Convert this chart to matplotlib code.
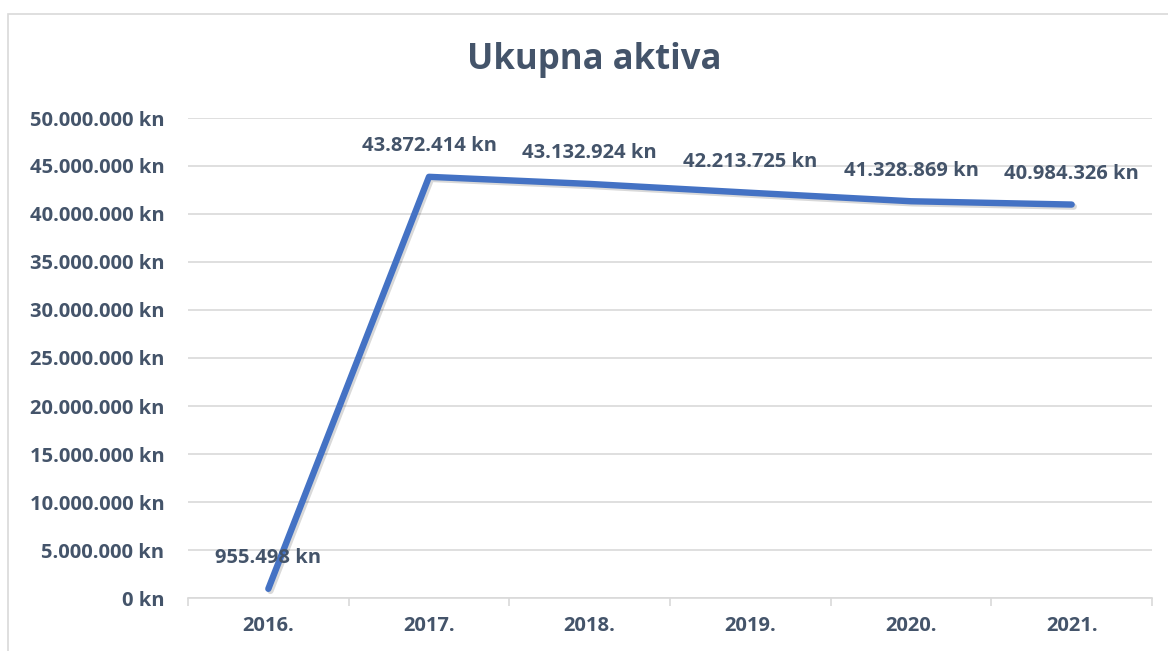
import matplotlib
matplotlib.use("Agg")
import matplotlib.pyplot as plt
import matplotlib.patheffects as pe
from matplotlib.patches import Rectangle
from matplotlib.ticker import FuncFormatter, FixedLocator

years = ["2016.", "2017.", "2018.", "2019.", "2020.", "2021."]
values = [955498, 43872414, 43132924, 42213725, 41328869, 40984326]
y_ticks = [0, 5000000, 10000000, 15000000, 20000000, 25000000, 30000000, 35000000, 40000000, 45000000, 50000000]
title = "Ukupna aktiva"

TXT = "#44546A"
GRID = "#D9D9D9"
LINE = "#4472C4"
plt.rcParams['font.family'] = ['Open Sans', 'DejaVu Sans']

def fmt(v):
    return f"{int(v):,}".replace(",", ".") + " kn"

W, H = 1168, 651
fig = plt.figure(figsize=(W/100, H/100), dpi=100)
fig.patch.set_facecolor("white")
fig.add_artist(Rectangle((8/W, -0.1), 1.2, 1 - 14/H + 0.1, transform=fig.transFigure,
                         fill=False, edgecolor=GRID, linewidth=1.2))

ax = fig.add_axes([188/W, 1 - 598/H, (1152-188)/W, (598-118)/H])
x = list(range(len(years)))
ax.plot(x, values, color=LINE, linewidth=4.6, solid_capstyle='round', solid_joinstyle='round',
        path_effects=[pe.SimpleLineShadow(offset=(1.5, -1.5), shadow_color='#000000', alpha=0.15), pe.Normal()],
        zorder=3)
for xi, v in zip(x, values):
    ax.annotate(fmt(v), (xi, v), xytext=(0, 22), textcoords='offset points', ha='center', va='center',
                fontsize=14.5, fontweight='bold', color=TXT)

ax.set_xlim(-0.5, len(years) - 0.5)
ax.set_ylim(0, 50000000)
ax.set_yticks(y_ticks)
ax.yaxis.set_major_formatter(FuncFormatter(lambda v, p: fmt(v)))
ax.set_xticks(x)
ax.set_xticklabels(years)
ax.xaxis.set_minor_locator(FixedLocator([i - 0.5 for i in range(len(years) + 1)]))
ax.tick_params(axis='x', which='major', length=0, pad=13)
ax.tick_params(axis='x', which='minor', length=6, color=GRID, width=1.2)
ax.tick_params(axis='y', length=0, pad=17)
for lab in ax.get_xticklabels() + ax.get_yticklabels():
    lab.set_fontsize(14.5)
    lab.set_fontweight('bold')
    lab.set_color(TXT)
ax.grid(axis='y', color=GRID, linewidth=1.2)
ax.set_axisbelow(True)
for s in ['top', 'right', 'left']:
    ax.spines[s].set_visible(False)
ax.spines['bottom'].set_color(GRID)
ax.spines['bottom'].set_linewidth(1.2)

fig.text(594/W, 1 - 60/H, title, ha='center', va='center', fontsize=25, fontweight='bold', color=TXT)

fig.savefig("out.png", dpi=100)
